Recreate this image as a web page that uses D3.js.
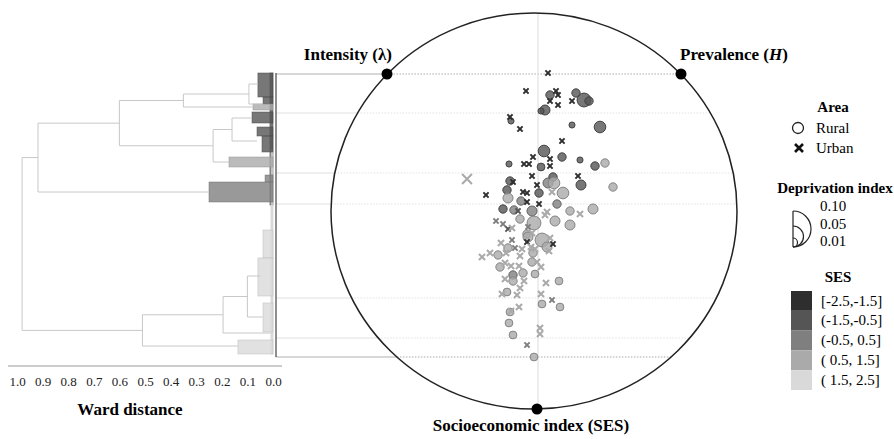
<!DOCTYPE html>
<html>
<head>
<meta charset="utf-8">
<script src="https://cdn.jsdelivr.net/npm/d3@7"></script>
<style>
body { margin: 0; background: #fff; }
svg { display: block; font-family: "Liberation Serif", "Times New Roman", serif; }
</style>
</head>
<body>
<div id="chart"></div>
<script>
const width = 894, height = 439;

// SES classes (legend + colours)
const sesLabels = ["[-2.5,-1.5]", "(-1.5,-0.5]", "(-0.5, 0.5]", "( 0.5, 1.5]", "( 1.5, 2.5]"];
const sesColors = ["#2e2e2e", "#555555", "#7f7f7f", "#aaaaaa", "#d9d9d9"];
const depLegend = [0.10, 0.05, 0.01];
const wardTicks = [1.0, 0.9, 0.8, 0.7, 0.6, 0.5, 0.4, 0.3, 0.2, 0.1, 0.0];

// scatter points: [x, y, deprivation index, ses class]
const rural = [
  [6, 58, .04, 1], [19, 59, .04, 1], [23, 55.5, .09, 1], [25.5, 55, .04, 1], [3.5, 50.5, .055, 1],
  [1.5, 50, .02, 1], [-13.5, 45, .02, 1], [17, 43, .02, 1], [31, 42, .07, 1], [3, 30, .07, 1],
  [-14.5, 23.5, .02, 1], [12, 27, .04, 1], [21, 25.5, .02, 1], [28.5, 22.5, .04, 1], [33.5, 24, .04, 3],
  [1.5, 22, .035, 1], [7.5, 17, .04, 1], [-14, 15, .04, 1], [5, 14, .055, 2], [8, 14, .07, 3],
  [21.5, 13, .055, 1], [37.5, 12, .04, 3], [-15.5, 10.5, .04, 1], [0.5, 9, .04, 1], [12.5, 9, .07, 3],
  [-15, 6.5, .055, 3], [-8.5, 5, .04, 2], [9.5, 3.5, .04, 2], [-17.5, 1, .04, 1], [-12, 0.5, .04, 2],
  [-3, 0, .055, 2], [16, 0, .04, 3], [27.5, 1, .055, 3], [-9, -4, .04, 3], [-2, -6, .09, 3],
  [8.5, -5, .055, 3], [16, -7, .055, 3], [-5.5, -11.5, .04, 3], [-5, -13, .055, 3], [2, -14.5, .09, 3],
  [-15, -18.5, .04, 3], [4.5, -18, .055, 3], [-20, -22, .04, 3], [-2.5, -21, .04, 3], [-19, -28, .04, 3],
  [-3, -25.5, .04, 3], [-12.5, -32, .04, 2], [-12.5, -35, .04, 3], [-7.5, -31, .04, 3], [-1.5, -31.5, .035, 3],
  [10.5, -35, .035, 3], [-15.5, -40.5, .035, 3], [2, -46.5, .035, 3], [11, -48, .035, 3], [-14, -50.5, .035, 3],
  [-14.5, -56, .035, 3], [-12.5, -62, .035, 3], [-2, -73, .035, 3]
];
const urban = [
  [5, 69, .02, 0], [-6, 60, .02, 0], [9, 60, .02, 0], [10, 58, .02, 0], [6, 55, .02, 0],
  [10, 53, .02, 0], [17, 55, .02, 0], [-14, 47, .02, 0], [-9, 41, .02, 0], [12, 35, .02, 0],
  [-2.5, 27, .02, 0], [-7, 23.5, .02, 0], [-4.5, 23.5, .02, 0], [6, 26, .02, 0], [6, 22.5, .02, 0],
  [-35.5, 16, .07, 3], [-3, 17.5, .02, 0], [20, 17.5, .02, 0], [-12.5, 14.5, .02, 0], [-0.5, 13, .02, 0],
  [-26, 8, .02, 0], [-7.5, 9.5, .02, 0], [-5.5, 9, .02, 0], [7, 9.5, .03, 3], [-5.5, 4.5, .02, 0],
  [0.5, 3.5, .02, 0], [-10, 0, .02, 1], [4.5, -0.5, .03, 3], [3.5, -2, .03, 3], [21, -1.5, .03, 3],
  [-21, -5, .02, 2], [-17.5, -6.5, .02, 2], [-15, -9, .02, 1], [-5, -8, .02, 2], [-13, -8.5, .03, 3],
  [-3, -11, .03, 3], [-13, -14.5, .02, 2], [-5.5, -15.5, .02, 0], [6, -13.5, .03, 3], [7.5, -16.5, .02, 0],
  [-18.5, -16, .03, 3], [-11.5, -18.5, .02, 2], [-8, -19, .03, 3], [-3.5, -18, .03, 3], [-1.5, -19, .03, 3],
  [5.5, -20, .03, 3], [-28, -23, .03, 3], [-24, -21, .03, 3], [-16, -21, .03, 3], [-9, -22.5, .03, 3],
  [-16.5, -26, .03, 3], [-9.5, -27.5, .03, 3], [1.5, -28, .03, 3], [-13.5, -27.5, .03, 3], [-0.5, -25.5, .03, 3],
  [-16.5, -34, .03, 3], [-7, -35, .03, 3], [4, -36, .03, 3], [-9, -38.5, .03, 3], [-18, -41.5, .03, 3],
  [-10.5, -42, .03, 3], [1.5, -41.5, .03, 3], [7, -44.5, .02, 2], [-9.5, -48, .03, 3], [-13.5, -50, .03, 3],
  [1, -58.5, .03, 3], [1, -61.5, .03, 3], [-5.5, -67, .02, 2]
];

// dendrogram (Ward distance h, leaf position y)
const tree = {h: .98, children: [
  {h: .918, children: [
    {h: .60, children: [
      {h: .35, children: [
        {h: .094, children: [{y: 63.5, h: .059}, {y: 53.5, h: .04}]},
        {y: 52, h: .078}]},
      {h: .234, children: [
        {h: .16, children: [{y: 46.5, h: .082}, {y: 35, h: .0625}]},
        {y: 24.5, h: .172}]}]},
    {y: 9.5, h: .25}]},
  {h: .51, children: [
    {h: .195, children: [
      {h: .10, children: [{y: -32.5, h: .05}, {y: -53, h: .04}]},
      {y: -61, h: .01}]},
    {y: -67.5, h: .137}]}]};

// shaded leaf clusters: [yTop, yBottom, height, ses]
const shades = [
  [69, 3, .012, 1], [30.5, -71.5, .008, 4],
  [69, 57, .059, 1], [57, 53.5, .039, 1], [53.5, 50.5, .078, 3], [49.5, 44, .082, 1],
  [42, 37.5, .0625, 1], [37.5, 29.5, .043, 1], [27, 22, .172, 3], [18, 14.5, .031, 2],
  [14.5, 4.5, .25, 2], [-9.5, -23.5, .039, 4], [-23.5, -42.5, .059, 4], [-46, -60.5, .039, 4],
  [-64.5, -71.5, .137, 4]
];
// cluster cut lines
const cuts = [68.5, 49, 19, 3.5, -43.5, -63.5, -73];

// the three named poles: [x, y]
const poles = [
  {label: "Intensity (λ)", pos: [-75.5, 68.5]},
  {label: "Prevalence", italic: "H", pos: [71.5, 68.5]},
  {label: "Socioeconomic index (SES)", pos: [-0.5, -99]}
];

const svg = d3.select("#chart").append("svg")
  .attr("width", width)
  .attr("height", height);

const cx = 538, cy = 211, R = 198;
const x = d3.scaleLinear().domain([-99, 99]).range([cx - R, cx + R]);
const y = d3.scaleLinear().domain([-99, 99]).range([cy + R, cy - R]);
const wx = d3.scaleLinear().domain([1, 0]).range([17, 273]);
const rScale = d3.scaleLinear().domain([0.01, 0.10]).range([2.5, 7.5]);
const rLegend = d3.scaleLinear().domain([0.01, 0.10]).range([4.5, 18]);
const color = i => sesColors[i];

// outline (slightly wider than tall, as in the original figure)
const ell = {cx: 534, cy: 211, rx: 203, ry: 198};
const edgeAt = py => {
  const t = (py - ell.cy) / ell.ry;
  const hw = ell.rx * Math.sqrt(Math.max(0, 1 - t * t));
  return [ell.cx - hw, ell.cx + hw];
};

// cut lines: solid outside the outline, dotted inside
const axisX = wx(0) + 3;
cuts.forEach((c, i) => {
  const edge = i === 0 || i === cuts.length - 1;
  const py = y(c);
  const [l, r] = edgeAt(py);
  svg.append("line")
    .attr("x1", axisX).attr("x2", l)
    .attr("y1", py).attr("y2", py)
    .attr("stroke", edge ? "#b0b0b0" : "#e0e0e0");
  svg.append("line")
    .attr("x1", l).attr("x2", i === 0 ? x(poles[1].pos[0]) : r)
    .attr("y1", py).attr("y2", py)
    .attr("stroke", edge ? "#aaaaaa" : "#e2e2e2")
    .style("stroke-dasharray", "1.5,1.5");
});

// vertical centre line
svg.append("line")
  .attr("x1", x(0)).attr("x2", x(0))
  .attr("y1", y(99)).attr("y2", y(-99))
  .attr("stroke", "#dcdcdc");

// dendrogram shades
svg.append("g").selectAll("rect")
  .data(shades)
  .join("rect")
  .attr("x", d => wx(d[2]))
  .attr("y", d => y(d[0]))
  .attr("width", d => wx(0) - wx(d[2]))
  .attr("height", d => y(d[1]) - y(d[0]))
  .attr("fill", d => color(d[3]))
  .attr("fill-opacity", .8)
  .attr("stroke", d => d3.color(color(d[3])).darker(0.4))
  .attr("stroke-opacity", .6)
  .attr("stroke-width", 0.8);

// dendrogram links
const root = d3.hierarchy(tree);
root.eachAfter(n => {
  if (n.children) n.data.y = (n.children[0].data.y + n.children[n.children.length - 1].data.y) / 2;
});
const links = svg.append("g").attr("stroke", "#c8c8c8").attr("fill", "none");
root.descendants().filter(n => n.children).forEach(n => {
  const ys = n.children.map(c => c.data.y);
  links.append("line")
    .attr("x1", wx(n.data.h)).attr("x2", wx(n.data.h))
    .attr("y1", y(d3.max(ys))).attr("y2", y(d3.min(ys)));
  n.children.forEach(c => {
    links.append("line")
      .attr("x1", wx(n.data.h)).attr("x2", wx(c.data.h))
      .attr("y1", y(c.data.y)).attr("y2", y(c.data.y));
  });
});

// dendrogram vertical baseline
svg.append("line")
  .attr("x1", axisX).attr("x2", axisX)
  .attr("y1", y(69)).attr("y2", y(-73))
  .attr("stroke", "#444").attr("stroke-width", 1.2);

// Ward distance axis
const wAxis = svg.append("g")
  .attr("transform", `translate(0,${366})`)
  .call(d3.axisBottom(wx).tickValues(wardTicks).tickFormat(d3.format(".1f")).tickSize(0).tickPadding(11));
wAxis.select(".domain").attr("d", `M${wx(1.035)},0H${wx(-0.035)}`).attr("stroke", "#999");
wAxis.selectAll("text").style("font-family", "Liberation Serif").style("font-size", "13px").attr("fill", "#222");

svg.append("text")
  .attr("x", 130).attr("y", 415)
  .attr("text-anchor", "middle")
  .style("font-weight", "bold").style("font-size", "17px")
  .text("Ward distance");

// outline
svg.append("ellipse")
  .attr("cx", ell.cx).attr("cy", ell.cy).attr("rx", ell.rx).attr("ry", ell.ry)
  .attr("fill", "none").attr("stroke", "#222").attr("stroke-width", 1.5);

// rural points
svg.append("g").selectAll("circle")
  .data(rural)
  .join("circle")
  .attr("cx", d => x(d[0]))
  .attr("cy", d => y(d[1]))
  .attr("r", d => rScale(d[2]))
  .attr("fill", d => color(d[3]))
  .attr("fill-opacity", .8)
  .attr("stroke", d => d3.color(color(d[3])).darker(0.7))
  .attr("stroke-width", 1);

// urban points
svg.append("g").selectAll("path")
  .data(urban)
  .join("path")
  .attr("transform", d => `translate(${x(d[0])},${y(d[1])})`)
  .attr("d", d => {
    const s = rScale(d[2]) * 0.85;
    return `M${-s},${-s}L${s},${s}M${-s},${s}L${s},${-s}`;
  })
  .attr("stroke", d => color(d[3]))
  .attr("stroke-width", 2);

// poles
svg.append("g").selectAll("circle")
  .data(poles)
  .join("circle")
  .attr("cx", d => x(d.pos[0])).attr("cy", d => y(d.pos[1])).attr("r", 5.5)
  .attr("fill", "#000");
const poleText = [
  {anchor: "end", dx: 5, dy: -14},
  {anchor: "start", dx: -1, dy: -14},
  {anchor: "middle", dx: -6, dy: 22}
];
poles.forEach((p, i) => {
  const t = svg.append("text")
    .attr("x", x(p.pos[0]) + poleText[i].dx).attr("y", y(p.pos[1]) + poleText[i].dy)
    .attr("text-anchor", poleText[i].anchor)
    .style("font-weight", "bold").style("font-size", "17px");
  if (p.italic) {
    t.append("tspan").text(p.label + " (");
    t.append("tspan").style("font-style", "italic").text(p.italic);
    t.append("tspan").text(")");
  } else {
    t.text(p.label);
  }
});

// legend: Area
const lg = svg.append("g").style("font-size", "15px");
lg.append("text").attr("x", 833).attr("y", 112).attr("text-anchor", "middle")
  .style("font-weight", "bold").text("Area");
lg.append("circle").attr("cx", 798).attr("cy", 128).attr("r", 5.5)
  .attr("fill", "none").attr("stroke", "#222").attr("stroke-width", 1.3);
lg.append("text").attr("x", 816).attr("y", 133).text("Rural");
lg.append("path").attr("transform", "translate(799,148)")
  .attr("d", "M-4,-4L4,4M-4,4L4,-4").attr("stroke", "#111").attr("stroke-width", 2.6);
lg.append("text").attr("x", 816).attr("y", 153).text("Urban");

// legend: Deprivation index
lg.append("text").attr("x", 835).attr("y", 193).attr("text-anchor", "middle")
  .style("font-weight", "bold").text("Deprivation index");
const baseY = 247, baseX = 793;
lg.selectAll(".dep")
  .data(depLegend)
  .join("path")
  .attr("class", "dep")
  .attr("d", d => {
    const rr = rLegend(d);
    return `M${baseX},${baseY - 2 * rr}A${rr},${rr} 0 0 1 ${baseX},${baseY}`;
  })
  .attr("fill", "none").attr("stroke", "#222").attr("stroke-width", 1.2);
lg.append("line").attr("x1", baseX).attr("x2", baseX)
  .attr("y1", baseY - 2 * rLegend(0.10)).attr("y2", baseY)
  .attr("stroke", "#222").attr("stroke-width", 1.2);
lg.selectAll(".depl")
  .data(depLegend)
  .join("text")
  .attr("class", "depl")
  .attr("x", 820)
  .attr("y", (d, i) => 211 + i * 17.5)
  .text(d => d3.format(".2f")(d));

// legend: SES
lg.append("text").attr("x", 838).attr("y", 282).attr("text-anchor", "middle")
  .style("font-weight", "bold").text("SES");
const rowH = 19.8;
lg.selectAll(".ses")
  .data(sesLabels)
  .join("rect")
  .attr("class", "ses")
  .attr("x", 791).attr("y", (d, i) => 291 + i * rowH)
  .attr("width", 21).attr("height", rowH)
  .attr("fill", (d, i) => sesColors[i]);
lg.selectAll(".sesl")
  .data(sesLabels)
  .join("text")
  .attr("class", "sesl")
  .attr("x", 821).attr("y", (d, i) => 291 + i * rowH + 14.5)
  .style("white-space", "pre")
  .text(d => d);
</script>
</body>
</html>
